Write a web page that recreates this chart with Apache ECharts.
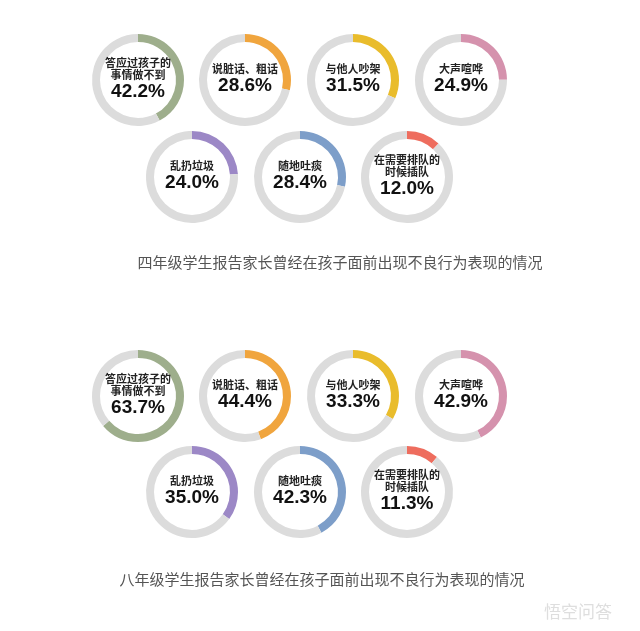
<!DOCTYPE html>
<html>
<head>
<meta charset="utf-8">
<script src="https://cdn.jsdelivr.net/npm/echarts@6/dist/echarts.min.js"></script>
<style>
html,body{margin:0;padding:0;background:#fff;}
#c{width:640px;height:631px;}
</style>
</head>
<body>
<div id="c"></div>
<script>
const categories = ["答应过孩子的\n事情做不到", "说脏话、粗话", "与他人吵架", "大声喧哗", "乱扔垃圾", "随地吐痰", "在需要排队的\n时候插队"];
const grade4Values = [42.2, 28.6, 31.5, 24.9, 24.0, 28.4, 12.0];
const grade8Values = [63.7, 44.4, 33.3, 42.9, 35.0, 42.3, 11.3];
const panelTitles = ["四年级学生报告家长曾经在孩子面前出现不良行为表现的情况", "八年级学生报告家长曾经在孩子面前出现不良行为表现的情况"];
const ringColors = ["#9eae8c", "#f0a53e", "#e9bc2c", "#d592ad", "#9c88c6", "#7d9ec9", "#ee6d5e"];

const colX = [[138, 245, 353, 461], [192, 300, 407]];
const panelY = [[80, 177], [396, 492]];
const titlePos = [[340, 262], [322, 579]];

const chart = echarts.init(document.getElementById('c'));
const series = [];
[grade4Values, grade8Values].forEach((vals, p) => {
  vals.forEach((v, i) => {
    const row = i < 4 ? 0 : 1;
    const col = i < 4 ? i : i - 4;
    series.push({
      type: 'pie',
      silent: true,
      center: [colX[row][col], panelY[p][row]],
      radius: [38, 46],
      startAngle: 90,
      clockwise: true,
      animation: false,
      labelLine: {show: false},
      data: [
        {value: v, itemStyle: {color: ringColors[i]},
         label: {
           show: true, position: 'center',
           formatter: '{n|' + categories[i].replace('\n', '}\n{n|') + '}\n{v|' + v.toFixed(1) + '%}',
           rich: {
             n: {fontSize: 11, fontWeight: 'bold', color: '#222', lineHeight: 12, fontFamily: 'Noto Sans CJK SC'},
             v: {fontSize: 19, fontWeight: 'bold', color: '#111', lineHeight: 23, fontFamily: "'Liberation Sans', Arial, sans-serif"}
           }
         }},
        {value: +(100 - v).toFixed(1), itemStyle: {color: '#dcdcdc'}, label: {show: false}}
      ]
    });
  });
});

const graphics = panelTitles.map((t, p) => ({
  type: 'text', x: titlePos[p][0], y: titlePos[p][1],
  style: {text: t, fill: '#555', fontSize: 15, fontFamily: 'Noto Sans CJK SC', align: 'center', verticalAlign: 'middle'}
}));
graphics.push({
  type: 'text', x: 612, y: 612,
  style: {text: '悟空问答', fill: '#dedede', fontSize: 17, fontFamily: 'Noto Sans CJK SC', align: 'right', verticalAlign: 'middle'}
});

chart.setOption({
  backgroundColor: '#ffffff',
  animation: false,
  series: series,
  graphic: graphics
});
</script>
</body>
</html>
